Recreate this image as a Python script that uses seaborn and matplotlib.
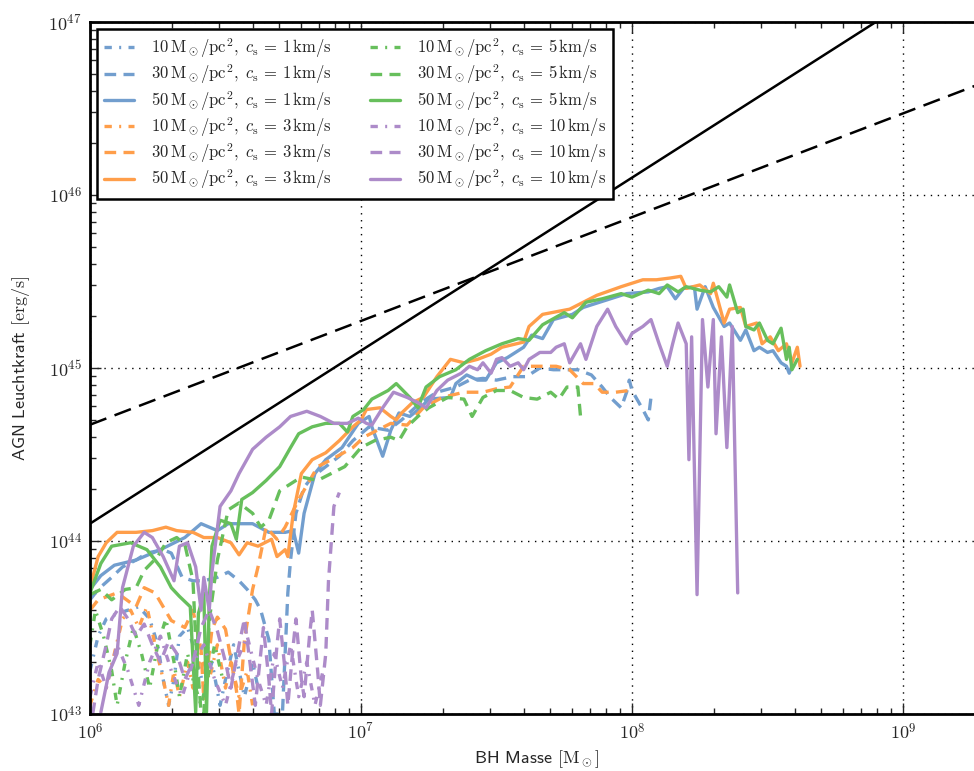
import numpy as np
import matplotlib
matplotlib.use("Agg")
import matplotlib.pyplot as plt
from matplotlib.ticker import FuncFormatter, LogLocator
import seaborn as sns

# ── data (log10 BH mass [Msun], log10 L [erg/s]) ──────────────────────────
# cs = 1 km/s
m_10_cs1 = [6.00, 6.03, 6.06, 6.10, 6.14, 6.18, 6.22, 6.25, 6.27, 6.29, 6.31, 6.33,
            6.36, 6.39, 6.42, 6.45, 6.48, 6.50, 6.53, 6.55, 6.57, 6.60, 6.62]
l_10_cs1 = [43.25, 43.45, 43.55, 43.58, 43.60, 43.62, 43.55, 43.40, 43.20, 43.05, 43.20, 43.45,
            43.50, 43.35, 43.15, 43.30, 43.05, 43.20, 43.40, 43.25, 43.10, 43.30, 43.15]

m_30_cs1 = [6.00, 6.03, 6.08, 6.12, 6.17, 6.21, 6.27, 6.30, 6.34, 6.38, 6.42, 6.47, 6.51,
            6.55, 6.58, 6.61, 6.63, 6.66, 6.68, 6.71, 6.73, 6.74, 6.76, 6.79, 6.82, 6.87,
            6.92, 6.97, 7.03, 7.10, 7.15, 7.22, 7.28, 7.35, 7.40, 7.45, 7.50, 7.56, 7.61,
            7.66, 7.71, 7.80, 7.85, 7.89, 7.92, 7.96, 7.98, 7.99, 8.00, 8.04, 8.06, 8.07, 8.08]
l_30_cs1 = [43.66, 43.72, 43.79, 43.85, 43.89, 43.93, 43.95, 43.93, 43.79, 43.77, 43.77, 43.79, 43.82,
            43.77, 43.72, 43.66, 43.60, 43.43, 43.00, 43.00, 43.70, 43.89, 44.16, 44.31, 44.37, 44.43,
            44.49, 44.58, 44.66, 44.64, 44.70, 44.80, 44.86, 44.89, 44.93, 44.94, 44.93, 44.95, 44.95,
            45.00, 44.99, 44.99, 44.96, 44.89, 44.83, 44.77, 44.86, 44.93, 44.87, 44.76, 44.70, 44.83, 44.86]

m_50_cs1 = [6.00, 6.04, 6.09, 6.17, 6.26, 6.35, 6.41, 6.47, 6.51, 6.60, 6.66, 6.72, 6.75,
            6.77, 6.79, 6.83, 6.87, 6.93, 6.99, 7.03, 7.04, 7.08, 7.11, 7.14, 7.18, 7.22,
            7.25, 7.33, 7.35, 7.39, 7.43, 7.46, 7.50, 7.54, 7.60, 7.63, 7.67, 7.71, 7.78,
            7.82, 7.88, 7.98, 8.06, 8.10, 8.13, 8.16, 8.19, 8.23, 8.24, 8.27, 8.30, 8.34,
            8.36, 8.40, 8.42, 8.45, 8.47, 8.50, 8.52, 8.55, 8.57, 8.58, 8.59]
l_50_cs1 = [43.72, 43.80, 43.86, 43.89, 43.95, 44.02, 44.10, 44.06, 44.10, 44.10, 44.05, 44.05, 44.06,
            43.93, 44.16, 44.39, 44.47, 44.54, 44.68, 44.72, 44.66, 44.49, 44.64, 44.74, 44.72, 44.77,
            44.82, 44.83, 44.91, 44.96, 44.93, 44.93, 45.03, 45.06, 45.12, 45.19, 45.17, 45.28, 45.31,
            45.35, 45.38, 45.43, 45.44, 45.46, 45.47, 45.40, 45.46, 45.47, 45.34, 45.47, 45.35, 45.24,
            45.26, 45.16, 45.22, 45.10, 45.12, 45.09, 45.10, 45.03, 45.01, 44.97, 45.01]

# cs = 3 km/s
m_10_cs3 = [6.00, 6.03, 6.06, 6.09, 6.12, 6.15, 6.18, 6.21, 6.24, 6.27, 6.29, 6.31,
            6.33, 6.36, 6.38, 6.41, 6.44, 6.47, 6.50, 6.52, 6.55, 6.58, 6.60]
l_10_cs3 = [43.05, 43.20, 43.15, 43.35, 43.55, 43.60, 43.50, 43.62, 43.40, 43.20, 43.05, 43.25,
            43.10, 43.30, 43.15, 43.35, 43.20, 43.40, 43.15, 43.30, 43.10, 43.25, 43.05]

m_30_cs3 = [6.00, 6.03, 6.10, 6.17, 6.20, 6.24, 6.30, 6.35, 6.38, 6.41, 6.42, 6.45, 6.47,
            6.50, 6.54, 6.55, 6.57, 6.60, 6.62, 6.65, 6.69, 6.72, 6.77, 6.84, 6.89, 6.97,
            7.01, 7.11, 7.17, 7.23, 7.30, 7.38, 7.45, 7.50, 7.55, 7.60, 7.67, 7.72, 7.77,
            7.82, 7.86, 7.89, 7.94, 7.99, 8.00]
l_30_cs3 = [43.60, 43.66, 43.70, 43.62, 43.73, 43.70, 43.54, 43.50, 43.60, 43.37, 43.08, 43.49, 43.56,
            43.49, 43.14, 43.00, 43.43, 43.72, 43.85, 44.08, 44.01, 44.08, 44.24, 44.43, 44.47, 44.54,
            44.60, 44.68, 44.67, 44.77, 44.83, 44.86, 44.86, 44.88, 44.89, 45.01, 45.01, 45.01, 44.99,
            44.91, 44.91, 44.86, 44.86, 44.87, 44.89]

m_50_cs3 = [6.00, 6.03, 6.06, 6.10, 6.17, 6.23, 6.28, 6.32, 6.38, 6.42, 6.47, 6.52, 6.55,
            6.58, 6.62, 6.67, 6.69, 6.72, 6.73, 6.75, 6.78, 6.82, 6.87, 6.92, 6.97, 7.00,
            7.02, 7.07, 7.11, 7.13, 7.15, 7.19, 7.23, 7.28, 7.33, 7.38, 7.43, 7.48, 7.52,
            7.60, 7.62, 7.67, 7.77, 7.82, 7.87, 7.96, 8.04, 8.09, 8.14, 8.18, 8.20, 8.25,
            8.29, 8.30, 8.34, 8.36, 8.40, 8.42, 8.46, 8.48, 8.51, 8.54, 8.57, 8.59, 8.61, 8.62]
l_50_cs3 = [43.73, 43.91, 43.99, 44.05, 44.05, 44.06, 44.08, 44.06, 44.05, 44.02, 44.02, 43.99, 43.92,
            43.99, 43.97, 44.01, 43.91, 43.95, 43.91, 44.16, 44.39, 44.47, 44.51, 44.58, 44.66, 44.70,
            44.76, 44.77, 44.72, 44.70, 44.74, 44.80, 44.83, 44.95, 45.05, 45.03, 45.05, 45.08, 45.12,
            45.15, 45.24, 45.31, 45.34, 45.38, 45.42, 45.47, 45.51, 45.51, 45.52, 45.53, 45.46, 45.48,
            45.43, 45.49, 45.26, 45.34, 45.35, 45.24, 45.26, 45.14, 45.18, 45.10, 45.14, 45.03, 45.12, 45.01]

# cs = 5 km/s
m_10_cs5 = [6.00, 6.02, 6.05, 6.08, 6.10, 6.13, 6.16, 6.19, 6.22, 6.25, 6.28, 6.31,
            6.33, 6.36, 6.38, 6.41, 6.44, 6.46, 6.49]
l_10_cs5 = [43.40, 43.60, 43.45, 43.25, 43.05, 43.30, 43.50, 43.35, 43.15, 43.40, 43.55, 43.30,
            43.10, 43.35, 43.20, 43.05, 43.25, 43.40, 43.20]

m_30_cs5 = [6.00, 6.04, 6.08, 6.13, 6.17, 6.20, 6.25, 6.28, 6.32, 6.35, 6.38, 6.39, 6.41,
            6.42, 6.44, 6.47, 6.51, 6.55, 6.60, 6.63, 6.66, 6.70, 6.75, 6.78, 6.84, 6.89,
            6.94, 7.00, 7.05, 7.11, 7.14, 7.17, 7.21, 7.25, 7.32, 7.38, 7.41, 7.45, 7.50,
            7.55, 7.60, 7.65, 7.70, 7.73, 7.76, 7.80, 7.81]
l_30_cs5 = [43.69, 43.72, 43.66, 43.72, 43.73, 43.83, 43.91, 43.99, 44.02, 43.98, 43.77, 43.43, 43.00,
            43.00, 43.54, 43.89, 44.18, 44.22, 44.16, 44.08, 44.12, 44.29, 44.34, 44.37, 44.35, 44.39,
            44.43, 44.54, 44.58, 44.60, 44.58, 44.66, 44.72, 44.77, 44.83, 44.82, 44.72, 44.83, 44.87,
            44.87, 44.83, 44.82, 44.86, 44.82, 44.89, 44.89, 44.72]

m_50_cs5 = [6.00, 6.04, 6.08, 6.15, 6.21, 6.26, 6.30, 6.33, 6.37, 6.39, 6.40, 6.42, 6.43,
            6.44, 6.45, 6.48, 6.52, 6.54, 6.56, 6.60, 6.65, 6.70, 6.74, 6.77, 6.82, 6.87,
            6.92, 6.95, 6.97, 7.01, 7.04, 7.10, 7.13, 7.18, 7.21, 7.24, 7.29, 7.35, 7.40,
            7.46, 7.52, 7.58, 7.62, 7.67, 7.75, 7.78, 7.83, 7.89, 7.96, 8.00, 8.06, 8.10,
            8.13, 8.17, 8.20, 8.25, 8.29, 8.32, 8.35, 8.36, 8.39, 8.41, 8.42, 8.45, 8.47,
            8.50, 8.52, 8.55, 8.57, 8.58, 8.59, 8.61]
l_50_cs5 = [43.70, 43.87, 43.97, 43.99, 43.95, 43.85, 43.73, 43.68, 43.62, 43.01, 43.58, 43.70, 43.01,
            43.65, 43.97, 44.12, 44.10, 44.01, 44.24, 44.28, 44.35, 44.43, 44.54, 44.62, 44.66, 44.68,
            44.68, 44.63, 44.72, 44.76, 44.82, 44.87, 44.91, 44.83, 44.77, 44.89, 44.95, 44.99, 45.05,
            45.10, 45.14, 45.17, 45.16, 45.25, 45.32, 45.29, 45.38, 45.40, 45.43, 45.41, 45.45, 45.43,
            45.48, 45.44, 45.47, 45.45, 45.44, 45.47, 45.41, 45.48, 45.32, 45.34, 45.24, 45.22, 45.26,
            45.16, 45.14, 45.23, 45.05, 45.12, 44.99, 45.05]

# cs = 10 km/s
m_10_cs10 = [6.00, 6.03, 6.06, 6.10, 6.14, 6.18, 6.22, 6.26, 6.30, 6.34, 6.38, 6.42, 6.46,
             6.50, 6.54, 6.58, 6.62, 6.65, 6.68, 6.71, 6.74, 6.77, 6.80, 6.83, 6.86]
l_10_cs10 = [43.10, 43.30, 43.15, 43.40, 43.25, 43.05, 43.30, 43.45, 43.25, 43.10, 43.30, 43.40, 43.20,
             43.05, 43.30, 43.45, 43.20, 43.05, 43.35, 43.15, 43.40, 43.10, 43.30, 43.05, 43.25]

m_30_cs10 = [6.01, 6.03, 6.06, 6.08, 6.11, 6.14, 6.17, 6.20, 6.23, 6.26, 6.29, 6.32, 6.35,
             6.38, 6.41, 6.44, 6.47, 6.50, 6.52, 6.55, 6.57, 6.59, 6.61, 6.63, 6.64, 6.66,
             6.67, 6.69, 6.70, 6.72, 6.73, 6.75, 6.76, 6.78, 6.79, 6.81, 6.82, 6.84, 6.85,
             6.87, 6.88, 6.90, 6.92]
l_30_cs10 = [43.00, 43.20, 43.40, 43.55, 43.62, 43.55, 43.45, 43.52, 43.40, 43.30, 43.42, 43.35, 43.20,
             43.30, 43.50, 43.60, 43.48, 43.30, 43.15, 43.40, 43.55, 43.30, 43.05, 43.35, 43.50, 43.20,
             43.00, 43.40, 43.55, 43.25, 43.05, 43.40, 43.55, 43.20, 43.10, 43.45, 43.60, 43.25, 43.05,
             43.35, 43.77, 44.20, 44.28]

m_50_cs10 = [6.04, 6.07, 6.10, 6.12, 6.16, 6.20, 6.23, 6.27, 6.31, 6.33, 6.36, 6.39, 6.41,
             6.42, 6.44, 6.45, 6.48, 6.52, 6.55, 6.60, 6.65, 6.70, 6.74, 6.80, 6.85, 6.90,
             6.95, 6.99, 7.02, 7.04, 7.08, 7.12, 7.17, 7.21, 7.24, 7.28, 7.32, 7.37, 7.40,
             7.43, 7.45, 7.48, 7.50, 7.52, 7.55, 7.58, 7.60, 7.62, 7.66, 7.70, 7.72, 7.75,
             7.77, 7.81, 7.83, 7.87, 7.91, 7.94, 7.98, 8.00, 8.04, 8.07, 8.10, 8.13, 8.15,
             8.17, 8.20, 8.21, 8.22, 8.24, 8.26, 8.28, 8.30, 8.31, 8.33, 8.35, 8.37, 8.39]
l_50_cs10 = [43.01, 43.24, 43.35, 43.73, 43.97, 44.05, 44.02, 43.91, 43.77, 43.97, 43.99, 43.85, 43.60,
             43.79, 43.60, 43.82, 44.20, 44.29, 44.39, 44.53, 44.60, 44.66, 44.72, 44.75, 44.72, 44.68,
             44.68, 44.71, 44.68, 44.67, 44.77, 44.86, 44.83, 44.80, 44.77, 44.87, 44.93, 44.97, 45.01,
             44.99, 45.03, 44.97, 45.05, 45.06, 45.01, 45.03, 44.99, 45.05, 45.09, 45.09, 45.12, 45.14,
             45.03, 45.14, 45.05, 45.24, 45.34, 45.24, 45.14, 45.20, 45.24, 45.28, 45.14, 45.01, 45.14,
             45.26, 45.14, 44.47, 45.18, 43.69, 45.28, 44.89, 45.28, 44.62, 45.18, 44.54, 45.24, 43.70]

# reference lines (end points)
edd_mass = [1e6, 2e9]
edd_lum = [1.26e44, 2.52e47]
lim_mass = [1e6, 2e9]
lim_lum = [4.7e44, 4.49e46]

sigmas = [10, 30, 50]
sound_speeds = [1, 3, 5, 10]
series = {
    1: [(m_10_cs1, l_10_cs1), (m_30_cs1, l_30_cs1), (m_50_cs1, l_50_cs1)],
    3: [(m_10_cs3, l_10_cs3), (m_30_cs3, l_30_cs3), (m_50_cs3, l_50_cs3)],
    5: [(m_10_cs5, l_10_cs5), (m_30_cs5, l_30_cs5), (m_50_cs5, l_50_cs5)],
    10: [(m_10_cs10, l_10_cs10), (m_30_cs10, l_30_cs10), (m_50_cs10, l_50_cs10)],
}
colors = {1: "#729ECE", 3: "#FF9E4A", 5: "#67BF5C", 10: "#AD8BC9"}
styles = {10: (0, (2.2, 2.2, 0.6, 2.2)), 30: (0, (3.5, 2.2)), 50: "-"}

# ── style ─────────────────────────────────────────────────────────────────
sns.set_style("ticks")
plt.rcParams["font.family"] = ["cmss10", "DejaVu Sans"]
plt.rcParams["mathtext.fontset"] = "cm"
plt.rcParams["axes.unicode_minus"] = False

fig = plt.figure(figsize=(9.74, 7.71), dpi=100)
ax = fig.add_axes([90 / 974, 57 / 771, 894.6 / 974, 692 / 771])

for cs in sound_speeds:
    for sig, (m, l) in zip(sigmas, series[cs]):
        sns.lineplot(x=10 ** np.array(m), y=10 ** np.array(l), ax=ax,
                     color=colors[cs], lw=2.4, linestyle=styles[sig],
                     sort=False, estimator=None,
                     label=r"$%d\,\mathrm{M_\odot/pc^2},\ c_\mathrm{s}\,=\,%d\,\mathrm{km/s}$" % (sig, cs))

ax.plot(edd_mass, edd_lum, color="black", lw=1.8)
ax.plot(lim_mass, lim_lum, color="black", lw=1.8, linestyle=(0, (7, 3.5)))

ax.set_xscale("log")
ax.set_yscale("log")
ax.set_xlim(1e6, 2e9)
ax.set_ylim(1e43, 1e47)

fmt = FuncFormatter(lambda v, p: r"$10^{%d}$" % round(np.log10(v)))
ax.xaxis.set_major_formatter(fmt)
ax.yaxis.set_major_formatter(fmt)
ax.xaxis.set_major_locator(LogLocator(base=10, numticks=10))
ax.yaxis.set_major_locator(LogLocator(base=10, numticks=10))
ax.tick_params(which="both", direction="in", top=True, right=True, labelsize=13, pad=6)
ax.tick_params(which="major", length=8, width=1)
ax.tick_params(which="minor", length=4, width=1)
ax.grid(True, which="major", color="black", linestyle=(0, (1, 4)), lw=1)
for sp in ax.spines.values():
    sp.set_linewidth(2)
    sp.set_color("black")

ax.set_xlabel(r"BH Masse $[\mathrm{M_\odot}]$", fontsize=13, labelpad=4)
ax.set_ylabel(r"AGN Leuchtkraft $[\mathrm{erg/s}]$", fontsize=13, labelpad=12)

leg = ax.legend(loc="upper left", ncol=2, fontsize=12, frameon=True, fancybox=False,
                edgecolor="black", framealpha=1, handlelength=1.8, labelspacing=0.14,
                columnspacing=2.3, borderaxespad=0.4, handletextpad=1.0, borderpad=0.45)
leg.get_frame().set_linewidth(1.8)

fig.savefig("out.png", dpi=100)
